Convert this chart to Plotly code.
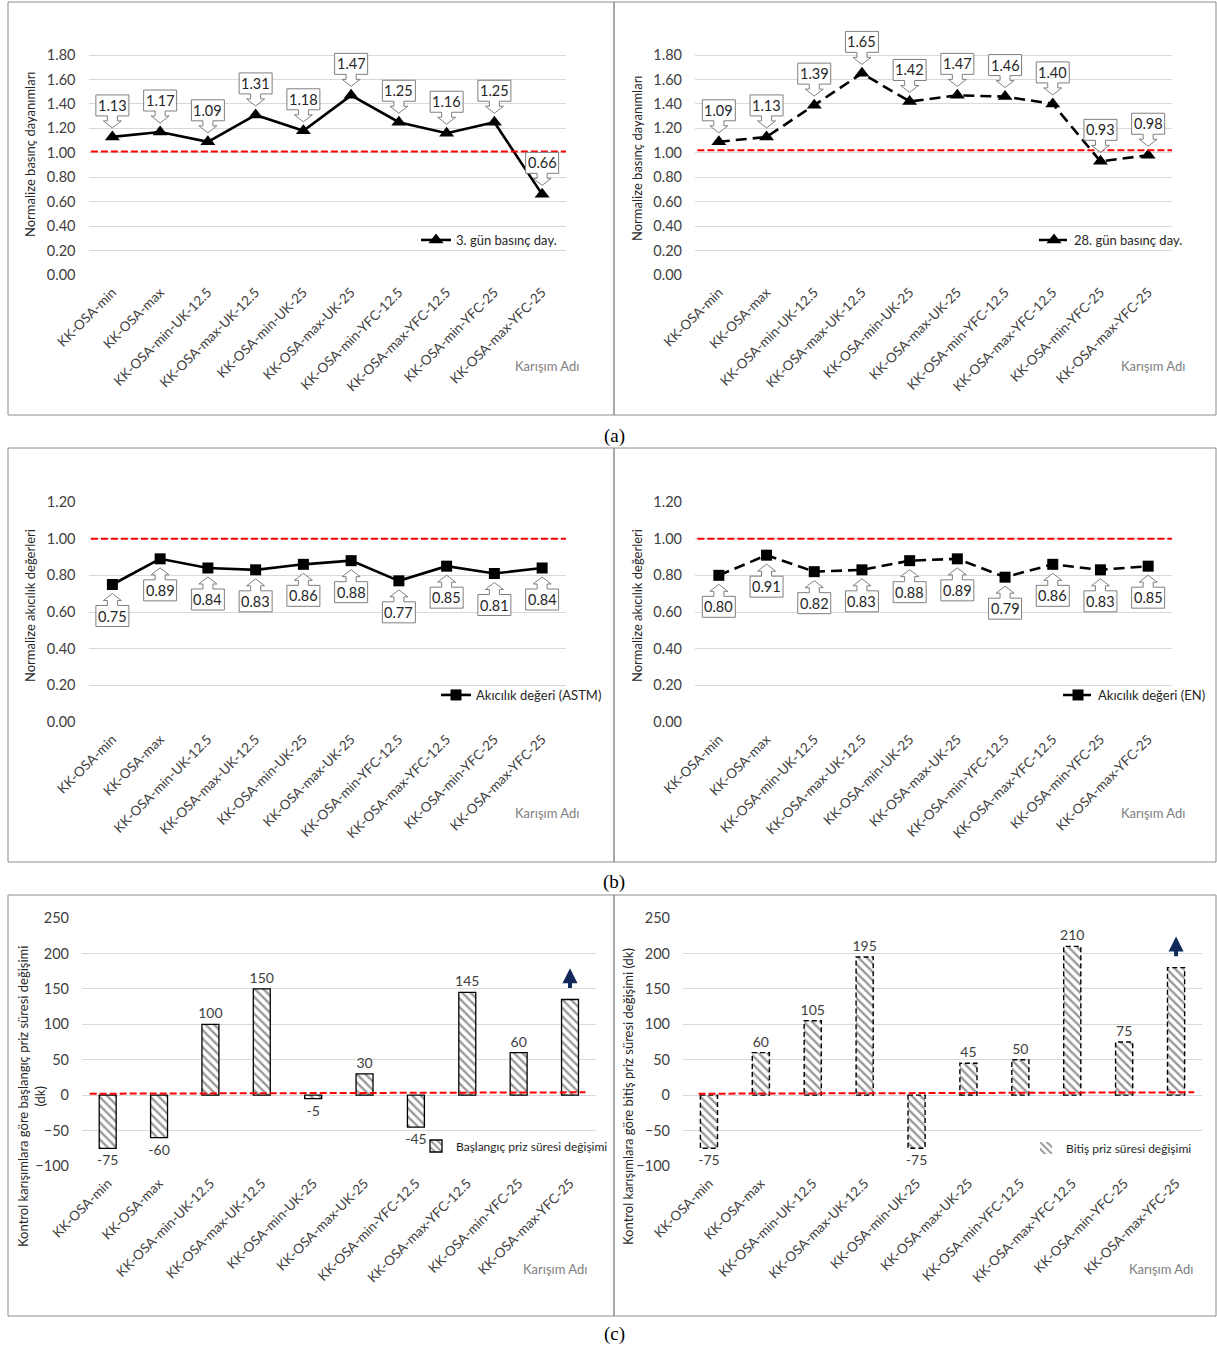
import plotly.graph_objects as go

# ---------------------------------------------------------------- data
categories = [
    "KK-OSA-min", "KK-OSA-max", "KK-OSA-min-UK-12.5", "KK-OSA-max-UK-12.5",
    "KK-OSA-min-UK-25", "KK-OSA-max-UK-25", "KK-OSA-min-YFC-12.5",
    "KK-OSA-max-YFC-12.5", "KK-OSA-min-YFC-25", "KK-OSA-max-YFC-25",
]
strength_3d = [1.13, 1.17, 1.09, 1.31, 1.18, 1.47, 1.25, 1.16, 1.25, 0.66]
strength_28d = [1.09, 1.13, 1.39, 1.65, 1.42, 1.47, 1.46, 1.40, 0.93, 0.98]
flow_astm = [0.75, 0.89, 0.84, 0.83, 0.86, 0.88, 0.77, 0.85, 0.81, 0.84]
flow_en = [0.80, 0.91, 0.82, 0.83, 0.88, 0.89, 0.79, 0.86, 0.83, 0.85]
initial_set_change = [-75, -60, 100, 150, -5, 30, -45, 145, 60, 135]
final_set_change = [-75, 60, 105, 195, -75, 45, 50, 210, 75, 180]

# control-mix reference levels (red dashed lines)
ref_strength_3d = 1.01
ref_strength_28d = 1.02
ref_flow = 1.00
ref_set = (2, 4)

series_names = [
    "3. gün basınç day.", "28. gün basınç day.",
    "Akıcılık değeri (ASTM)", "Akıcılık değeri (EN)",
    "Başlangıç priz süresi değişimi", "Bitiş priz süresi değişimi",
]
x_title = "Karışım Adı"
y_titles = [
    "Normalize basınç dayanımları", "Normalize basınç dayanımları",
    "Normalize akıcılık değerleri", "Normalize akıcılık değerleri",
    "Kontrol karışımlara göre başlangıç priz süresi değişimi<br>(dk)",
    "Kontrol karışımlara göre bitiş priz süresi değişimi (dk)",
]
panel_labels = ["(a)", "(b)", "(c)"]

# ---------------------------------------------------------------- layout helpers
W, H = 1217, 1349
FONT = "Lato"
TXT = "#404040"
pos = list(range(len(categories)))


def fx(p):
    return p / W


def fy(p):
    return 1 - p / H


# per panel: x pixel span, y pixel span (top, bottom), y range, tick step, top tick
panels = [
    ((88.5, 566), (30.6, 275), (0, 2.0), 0.2, 1.8),
    ((695, 1172), (30.6, 275), (0, 2.0), 0.2, 1.8),
    ((88.5, 566), (502, 722), (0, 1.2), 0.2, 1.2),
    ((695, 1172), (502, 722), (0, 1.2), 0.2, 1.2),
    ((82, 595.7), (918, 1166), (-100, 250), 50, 250),
    ((683, 1202), (918, 1166), (-100, 250), 50, 250),
]

fig = go.Figure()
layout = dict(
    width=W, height=H, margin=dict(l=0, r=0, t=0, b=0, autoexpand=False),
    paper_bgcolor="white", plot_bgcolor="white", showlegend=True,
    font=dict(family=FONT, color=TXT, size=13),
    shapes=[], annotations=[],
)

for k, (xs, ys, yr, step, ytop) in enumerate(panels):
    n = "" if k == 0 else str(k + 1)
    ticks = []
    t = yr[0]
    while t <= ytop + 1e-9:
        ticks.append(round(t, 2))
        t += step
    layout["xaxis" + n] = dict(
        domain=[fx(xs[0]), fx(xs[1])], anchor="y" + n, range=[-0.5, 9.5],
        tickvals=pos, ticktext=categories, tickangle=-45, showgrid=False,
        zeroline=False, showline=False, ticks="", ticklabelstandoff=6,
        tickfont=dict(size=13.5, color=TXT), automargin=False,
    )
    layout["yaxis" + n] = dict(
        domain=[fy(ys[1]), fy(ys[0])], anchor="x" + n, range=list(yr),
        tickvals=ticks, tickformat=".2f" if step < 1 else "d",
        showgrid=True, gridcolor="#d9d9d9", gridwidth=1, zeroline=False,
        showline=False, ticks="", ticklabelstandoff=12,
        tickfont=dict(size=14.5, color=TXT), automargin=False,
    )

# ---------------------------------------------------------------- line panels
line_series = [
    (strength_3d, "solid", "triangle-up", 13, "down", ref_strength_3d),
    (strength_28d, "11px,6px", "triangle-up", 13, "down", ref_strength_28d),
    (flow_astm, "solid", "square", 11, "up", ref_flow),
    (flow_en, "11px,6px", "square", 11, "up", ref_flow),
]


def callout_path(direction):
    pts = [(0, 9), (9, 16), (5, 16), (5, 21), (16.5, 21), (16.5, 42),
           (-16.5, 42), (-16.5, 21), (-5, 21), (-5, 16), (-9, 16)]
    s = 1 if direction == "down" else -1
    return "M " + " L ".join(f"{x},{s * y}" for x, y in pts) + " Z"


legend_pos = [(562, 240), (1188, 240), (607, 695), (1211, 695),
              (613, 1146), (1197, 1148)]

for k, (vals, dash, sym, msize, direction, ref) in enumerate(line_series):
    n = "" if k == 0 else str(k + 1)
    fig.add_trace(go.Scatter(
        x=pos, y=vals, mode="lines+markers", name=series_names[k],
        xaxis="x" + n, yaxis="y" + n, legend="legend" + n, showlegend=True,
        line=dict(color="black", width=2.6, dash=dash),
        marker=dict(symbol=sym, size=msize, color="black"),
        cliponaxis=False,
    ))
    layout["shapes"].append(dict(
        type="line", xref=f"x{n} domain", yref="y" + n, x0=0.005, x1=1.0,
        y0=ref, y1=ref, line=dict(color="#ff0000", width=2, dash="7px,3px"),
        layer="above",
    ))
    path = callout_path(direction)
    s = 1 if direction == "down" else -1
    for i, v in zip(pos, vals):
        layout["shapes"].append(dict(
            type="path", xref="x" + n, yref="y" + n,
            xsizemode="pixel", ysizemode="pixel", xanchor=i, yanchor=v,
            path=path, fillcolor="white",
            line=dict(color="#7f7f7f", width=1), layer="above",
        ))
        layout["annotations"].append(dict(
            x=i, y=v, xref="x" + n, yref="y" + n, text=f"{v:.2f}",
            showarrow=False, yshift=s * 31.5,
            font=dict(size=14.5, color="#262626", family=FONT),
        ))

# ---------------------------------------------------------------- bar panels
bar_series = [(initial_set_change, False), (final_set_change, True)]
for j, (vals, dashed) in enumerate(bar_series):
    k = 4 + j
    n = str(k + 1)
    labels = [str(v) for v in vals[:-1]] + [""]
    fig.add_trace(go.Bar(
        x=pos, y=vals, width=0.33, name=series_names[k],
        xaxis="x" + n, yaxis="y" + n, legend="legend" + n, showlegend=True,
        marker=dict(
            color="white",
            line=dict(color="black", width=0 if dashed else 1.3),
            pattern=dict(shape="\\", fgcolor="#333333", bgcolor="white",
                         size=6, solidity=0.4),
        ),
        text=labels, textposition="outside", cliponaxis=False,
        constraintext="none",
        textfont=dict(size=14, color=TXT, family=FONT),
    ))
    if dashed:
        for i, v in zip(pos, vals):
            layout["shapes"].append(dict(
                type="rect", xref="x" + n, yref="y" + n,
                x0=i - 0.165, x1=i + 0.165, y0=0, y1=v,
                line=dict(color="black", width=1.4, dash="5px,3px"),
                layer="above",
            ))
    x0d, x1d = (0.015, 0.98) if j == 0 else (0.03, 0.985)
    layout["shapes"].append(dict(
        type="line", xref=f"x{n} domain", yref="y" + n, x0=x0d, x1=x1d,
        y0=ref_set[0], y1=ref_set[1],
        line=dict(color="#ff0000", width=2, dash="7px,3px"), layer="above",
    ))
    # upward arrow over the last mix: value still rising
    last = vals[-1]
    layout["annotations"].append(dict(
        x=pos[-1], y=last + 44, ax=pos[-1], ay=last + 14,
        xref="x" + n, yref="y" + n, axref="x" + n, ayref="y" + n,
        text="", showarrow=True, arrowhead=2, arrowsize=0.75,
        arrowwidth=4, arrowcolor="#10295a",
    ))

# ---------------------------------------------------------------- legends
for k, (lx, ly) in enumerate(legend_pos):
    key = "legend" if k == 0 else "legend" + str(k + 1)
    layout[key] = dict(
        x=fx(lx), y=fy(ly), xanchor="right", yanchor="middle",
        bgcolor="rgba(0,0,0,0)", borderwidth=0,
        font=dict(size=13 if k < 4 else 12, color="#262626", family=FONT),
        itemwidth=30, tracegroupgap=0,
    )

# ---------------------------------------------------------------- titles and frames
ytitle_pos = [(30, 155), (637, 159), (30, 606), (637, 606), (31, 1097), (628, 1097)]
for k, (tx, ty) in enumerate(ytitle_pos):
    layout["annotations"].append(dict(
        x=fx(tx), y=fy(ty), xref="paper", yref="paper", text=y_titles[k],
        textangle=-90, showarrow=False, xanchor="center", yanchor="middle",
        font=dict(size=13, color="#262626", family=FONT),
    ))

xtitle_pos = [(547, 366), (1153, 366), (547, 813), (1153, 813), (555, 1269), (1161, 1269)]
for tx, ty in xtitle_pos:
    layout["annotations"].append(dict(
        x=fx(tx), y=fy(ty), xref="paper", yref="paper", text=x_title,
        showarrow=False, xanchor="center", yanchor="middle",
        font=dict(size=13, color="#808080", family=FONT),
    ))

rows = [(2, 415, 436), (448, 862, 882), (895, 1316, 1334)]
for r, (top, bottom, label_y) in enumerate(rows):
    for (left, right) in [(8, 614), (614, 1216)]:
        layout["shapes"].append(dict(
            type="rect", xref="paper", yref="paper",
            x0=fx(left), x1=fx(right), y0=fy(bottom), y1=fy(top),
            line=dict(color="#8c8c8c", width=1), fillcolor="rgba(0,0,0,0)",
        ))
    layout["annotations"].append(dict(
        x=fx(614), y=fy(label_y), xref="paper", yref="paper",
        text=panel_labels[r], showarrow=False, xanchor="center",
        yanchor="middle",
        font=dict(size=19, color="black", family="Liberation Serif"),
    ))

fig.update_layout(**layout)
fig.write_html("out.html")
